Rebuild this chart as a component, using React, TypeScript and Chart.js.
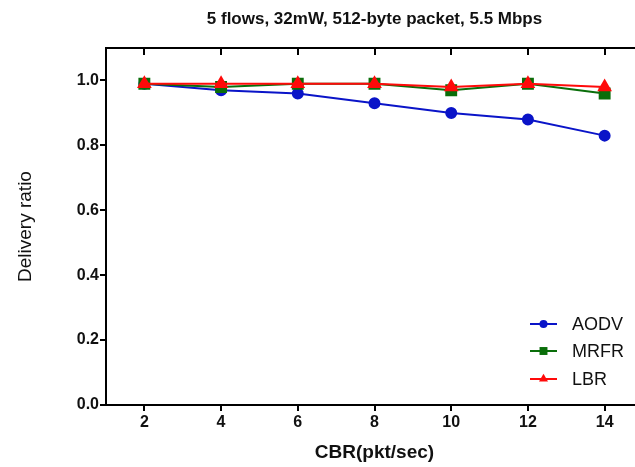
import React, { useEffect, useRef } from "react";
import { Chart, registerables } from "chart.js";

Chart.register(...registerables);

const titleText = "5 flows, 32mW, 512-byte packet, 5.5 Mbps";
const xTitle = "CBR(pkt/sec)";
const yTitle = "Delivery ratio";

const cbr = [2, 4, 6, 8, 10, 12, 14];
const aodv = [0.99, 0.97, 0.96, 0.93, 0.9, 0.88, 0.83];
const mrfr = [0.99, 0.98, 0.99, 0.99, 0.97, 0.99, 0.96];
const lbr = [0.99, 0.99, 0.99, 0.99, 0.98, 0.99, 0.98];

const xTicks = [2, 4, 6, 8, 10, 12, 14];
const yTicks = [0, 0.2, 0.4, 0.6, 0.8, 1.0];

const FONT = "'Liberation Sans', Arial, Helvetica, sans-serif";

const toPoints = (ys: number[]) => ys.map((y, i) => ({ x: cbr[i], y }));

const framePlugin = {
  id: "frame",
  afterDraw(chart: any) {
    const { ctx, chartArea } = chart;
    const xs = chart.scales.x;
    ctx.save();
    ctx.strokeStyle = "#000";
    ctx.lineWidth = 2;
    ctx.beginPath();
    ctx.moveTo(chartArea.left, chartArea.top);
    ctx.lineTo(chartArea.right, chartArea.top);
    ctx.lineTo(chartArea.right, chartArea.bottom);
    ctx.stroke();
    ctx.beginPath();
    xTicks.forEach((v) => {
      const px = Math.round(xs.getPixelForValue(v));
      ctx.moveTo(px, chartArea.top);
      ctx.lineTo(px, chartArea.top + 7);
    });
    ctx.stroke();
    // title
    ctx.fillStyle = "#111";
    ctx.font = `bold 17px ${FONT}`;
    ctx.textAlign = "center";
    ctx.textBaseline = "middle";
    ctx.fillText(titleText, (chartArea.left + chartArea.right) / 2, 19);
    ctx.restore();
  },
};

const legendPlugin = {
  id: "customLegend",
  afterDraw(chart: any) {
    const { ctx, chartArea } = chart;
    const x0 = chartArea.right - 113;
    const rows = [81, 54, 26];
    ctx.save();
    chart.data.datasets.forEach((ds: any, i: number) => {
      const y = chartArea.bottom - rows[i];
      ctx.strokeStyle = ds.borderColor;
      ctx.lineWidth = 2;
      ctx.beginPath();
      ctx.moveTo(x0, y);
      ctx.lineTo(x0 + 27, y);
      ctx.stroke();
      ctx.fillStyle = ds.pointBackgroundColor;
      ctx.strokeStyle = ds.pointBorderColor;
      ctx.lineWidth = 1;
      const r = ds.pointRadius * 0.8;
      if (ds.pointStyle === "circle") {
        ctx.beginPath();
        ctx.arc(x0 + 13.5, y, r, 0, Math.PI * 2);
        ctx.fill();
      } else if (ds.pointStyle === "rect") {
        const s = r * Math.SQRT1_2;
        ctx.fillRect(x0 + 13.5 - s, y - s, 2 * s, 2 * s);
      } else {
        ctx.beginPath();
        const cx = x0 + 13.5;
        ctx.moveTo(cx, y - r);
        ctx.lineTo(cx + r * 0.866, y + r * 0.5);
        ctx.lineTo(cx - r * 0.866, y + r * 0.5);
        ctx.closePath();
        ctx.fill();
      }
      ctx.fillStyle = "#111";
      ctx.font = `18px ${FONT}`;
      ctx.textAlign = "left";
      ctx.textBaseline = "middle";
      ctx.fillText(ds.label, x0 + 42, y + 1);
    });
    ctx.restore();
  },
};

export default function App() {
  const ref = useRef<HTMLCanvasElement | null>(null);
  useEffect(() => {
    if (!ref.current) return;
    const chart = new Chart(ref.current, {
      type: "line",
      data: {
        datasets: [
          {
            label: "AODV",
            data: toPoints(aodv),
            borderColor: "#0A14C8",
            backgroundColor: "#0A14C8",
            pointBackgroundColor: "#0A14C8",
            pointBorderColor: "#0A14C8",
            pointStyle: "circle",
            pointRadius: 5,
            borderWidth: 2,
            order: 2,
          },
          {
            label: "MRFR",
            data: toPoints(mrfr),
            borderColor: "#0A6E0A",
            backgroundColor: "#0A6E0A",
            pointBackgroundColor: "#0A6E0A",
            pointBorderColor: "#0A6E0A",
            pointStyle: "rect",
            pointRadius: 7,
            borderWidth: 2,
            order: 1,
          },
          {
            label: "LBR",
            data: toPoints(lbr),
            borderColor: "#FF0A0A",
            backgroundColor: "#FF0A0A",
            pointBackgroundColor: "#FF0A0A",
            pointBorderColor: "#FF0A0A",
            pointStyle: "triangle",
            pointRadius: 6.5,
            borderWidth: 2,
            order: 0,
          },
        ],
      },
      options: {
        responsive: false,
        animation: false,
        devicePixelRatio: 1,
        layout: { padding: { top: 48, right: 17, left: 0, bottom: 0 } },
        plugins: {
          legend: { display: false },
          title: { display: false },
          tooltip: { enabled: false },
        },
        scales: {
          x: {
            type: "linear",
            min: 1,
            max: 15,
            afterBuildTicks: (s: any) => {
              s.ticks = xTicks.map((v) => ({ value: v }));
            },
            afterFit: (s: any) => {
              s.height = 62;
            },
            grid: {
              drawOnChartArea: false,
              tickLength: 6,
              color: "#000",
              lineWidth: 2,
            },
            border: { color: "#000", width: 2 },
            ticks: {
              color: "#111",
              font: { family: FONT, size: 16, weight: "bold" },
              padding: 2,
              maxRotation: 0,
              autoSkip: false,
            },
            title: {
              display: true,
              text: xTitle,
              color: "#111",
              font: { family: FONT, size: 19, weight: "bold", lineHeight: 1.2 },
              padding: { top: 0, bottom: 3 },
            },
          },
          y: {
            type: "linear",
            min: 0,
            max: 1.1,
            afterBuildTicks: (s: any) => {
              s.ticks = yTicks.map((v) => ({ value: v }));
            },
            afterFit: (s: any) => {
              s.width = 106;
            },
            grid: {
              drawOnChartArea: false,
              tickLength: 6,
              color: "#000",
              lineWidth: 2,
            },
            border: { color: "#000", width: 2 },
            ticks: {
              color: "#111",
              font: { family: FONT, size: 16, weight: "bold" },
              padding: 1,
              callback: (v: any) => Number(v).toFixed(1),
            },
            title: {
              display: true,
              text: yTitle,
              color: "#111",
              font: { family: FONT, size: 19, lineHeight: 1.2 },
              padding: { top: 14, bottom: 0 },
            },
          },
        },
      },
      plugins: [framePlugin, legendPlugin],
    });
    return () => chart.destroy();
  }, []);
  return (
    <div
      style={{
        position: "fixed",
        left: 0,
        top: 0,
        width: 635,
        height: 467,
        overflow: "hidden",
        background: "#fff",
      }}
    >
      <canvas ref={ref} width={660} height={467} style={{ width: 660, height: 467, display: "block" }} />
    </div>
  );
}
